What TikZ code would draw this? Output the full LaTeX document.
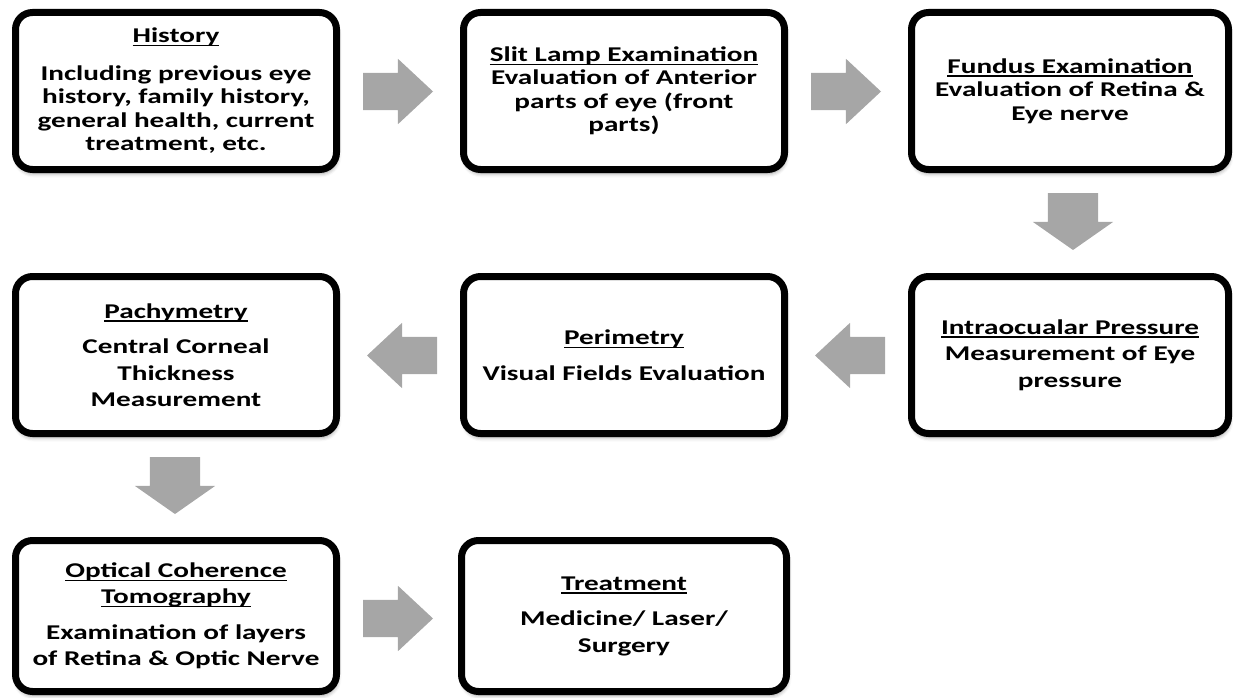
\documentclass[tikz,border=0pt]{standalone}
\usepackage{fontspec}
\setmainfont[FakeStretch=1.39]{Carlito}
\usetikzlibrary{shapes.arrows,shadows,shadows.blur,calc}
\definecolor{arrowgray}{HTML}{A6A6A6}
\newcommand\myul[1]{\setbox0\hbox{#1}\rlap{\rule[-3.5pt]{\wd0}{1.3pt}}\box0}
\tikzset{
  box/.style={draw=black, line width=7pt, rounded corners=17pt, fill=white,
    minimum width=321pt, minimum height=157pt, align=center, inner sep=0pt,
    blur shadow={shadow xshift=1pt, shadow yshift=-4pt, shadow blur radius=4pt, shadow opacity=40},
    font=\bfseries\fontsize{21}{23.5}\selectfont},
  boxlow/.style={box, font=\bfseries\fontsize{21}{26.5}\selectfont},
  blockarrow/.style={single arrow, fill=arrowgray, draw=none, inner xsep=0pt, outer sep=0pt, anchor=tail},
  rarrow/.style={blockarrow, inner ysep=18.5pt, single arrow head extend=14pt,
    single arrow tip angle=86, minimum height=70pt},
  larrow/.style={rarrow, rotate=180},
  darrow/.style={blockarrow, inner ysep=25pt, single arrow head extend=15pt,
    single arrow tip angle=110, minimum height=57pt, rotate=-90},
}
\begin{document}
\begin{tikzpicture}[x=1pt,y=-1pt]
\useasboundingbox (0,0) rectangle (1233,698);
% row 1
\node[box] (hist) at (176,91) {\myul{History}\\[14pt]
  Including previous eye\\ history, family history,\\ general health, current\\ treatment, etc.};
\node[box] (slit) at (624,91) {\myul{Slit Lamp Examination}\\
  Evaluation of Anterior\\ parts of eye (front\\ parts)};
\node[box, minimum width=317pt] (fund) at (1070,91) {\myul{Fundus Examination}\\
  Evaluation of Retina \&\\ Eye nerve};
% row 2
\node[boxlow] (pach) at (176,355) {\myul{Pachymetry}\\[9pt]
  Central Corneal\\ Thickness\\ Measurement};
\node[boxlow] (peri) at (624,355) {\myul{Perimetry}\\[9pt]
  Visual Fields Evaluation};
\node[boxlow, minimum width=317pt] (iop) at (1070,355) {\myul{Intraocualar Pressure}\\
  Measurement of Eye\\ pressure};
% row 3
\node[boxlow, minimum height=151pt] (oct) at (176,616) {\myul{Optical Coherence}\\ \myul{Tomography}\\[9pt]
  Examination of layers\\ of Retina \& Optic Nerve};
\node[boxlow, minimum height=151pt, minimum width=325pt] (treat) at (624,616) {\myul{Treatment}\\[9pt]
  Medicine/ Laser/\\ Surgery};
% block arrows (placed by their tails)
\node[rarrow] (a1) at (363,91.5) {};
\node[rarrow] (a2) at (811,91.5) {};
\node[darrow] (a3) at (1073,193) {};
\node[larrow] (a4) at (885,355.5) {};
\node[larrow] (a5) at (437,355.5) {};
\node[darrow] (a6) at (175,457) {};
\node[rarrow] (a7) at (363,618.5) {};
\end{tikzpicture}
\end{document}
